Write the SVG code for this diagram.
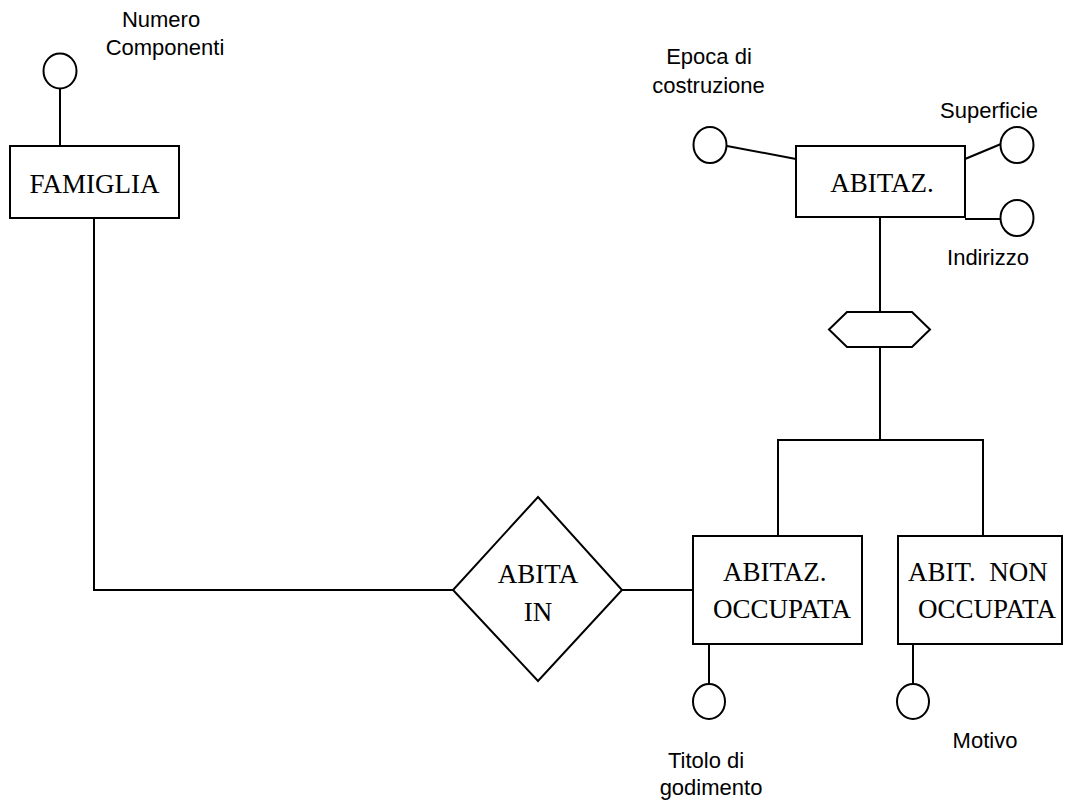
<svg xmlns="http://www.w3.org/2000/svg" width="1069" height="805" viewBox="0 0 1069 805">
<style>
.s{fill:none;stroke:#000;stroke-width:2}
.b{fill:#fff;stroke:#000;stroke-width:2}
.t{font-family:"Liberation Serif","Times New Roman",serif;font-size:27px;fill:#000}
.a{font-family:"Liberation Sans",Arial,sans-serif;font-size:22px;fill:#000}
.m{text-anchor:middle}
</style>
<rect width="1069" height="805" fill="#fff"/>
<g id="connectors">
<line class="s" x1="60" y1="89" x2="60" y2="146"/>
<polyline class="s" points="94,218 94,590 453,590"/>
<line class="s" x1="622" y1="590" x2="693" y2="590"/>
<line class="s" x1="727" y1="146" x2="796" y2="159"/>
<line class="s" x1="965" y1="159" x2="1001" y2="144"/>
<line class="s" x1="965" y1="219" x2="1000" y2="219"/>
<line class="s" x1="880" y1="217" x2="880" y2="312"/>
<line class="s" x1="880" y1="347" x2="880" y2="440"/>
<polyline class="s" points="778,536 778,440 983,440 983,536"/>
<line class="s" x1="709" y1="644" x2="709" y2="684"/>
<line class="s" x1="913" y1="644" x2="913" y2="684"/>
</g>
<g id="famiglia">
<rect class="b" x="10" y="146" width="169" height="72"/>
<text class="t m" x="94.5" y="193">FAMIGLIA</text>
</g>
<g id="attr-numero-componenti">
<ellipse class="b" cx="60" cy="71" rx="16.5" ry="17.5"/>
<text class="a m" x="161" y="27">Numero</text>
<text class="a m" x="165" y="55">Componenti</text>
</g>
<g id="abitaz">
<rect class="b" x="796" y="146" width="169" height="71"/>
<text class="t m" x="882" y="192">ABITAZ.</text>
</g>
<g id="attr-epoca">
<ellipse class="b" cx="710" cy="145" rx="16.5" ry="18"/>
<text class="a m" x="709" y="64">Epoca di</text>
<text class="a m" x="708.5" y="93">costruzione</text>
</g>
<g id="attr-superficie">
<ellipse class="b" cx="1017" cy="145" rx="16.5" ry="18"/>
<text class="a m" x="989" y="118">Superficie</text>
</g>
<g id="attr-indirizzo">
<ellipse class="b" cx="1017" cy="218" rx="16.5" ry="18"/>
<text class="a m" x="988" y="265">Indirizzo</text>
</g>
<g id="generalization">
<polygon class="b" points="829,329.5 847,312 912,312 930,329.5 912,347 847,347"/>
</g>
<g id="abita-in">
<polygon class="b" points="538,497 622,590 538,681 453,590"/>
<text class="t m" x="538" y="583">ABITA</text>
<text class="t m" x="538" y="621">IN</text>
</g>
<g id="abitaz-occupata">
<rect class="b" x="693" y="536" width="169" height="108"/>
<text class="t" x="723" y="581">ABITAZ.</text>
<text class="t" x="713" y="618">OCCUPATA</text>
</g>
<g id="abit-non-occupata">
<rect class="b" x="898" y="536" width="164" height="108"/>
<text class="t" x="908" y="581" xml:space="preserve">ABIT.  NON</text>
<text class="t" x="918" y="618">OCCUPATA</text>
</g>
<g id="attr-titolo">
<ellipse class="b" cx="709" cy="701.5" rx="16" ry="17.5"/>
<text class="a m" x="706" y="768">Titolo di</text>
<text class="a m" x="711" y="795">godimento</text>
</g>
<g id="attr-motivo">
<ellipse class="b" cx="913" cy="701.5" rx="16" ry="17.5"/>
<text class="a m" x="985" y="748">Motivo</text>
</g>
</svg>
